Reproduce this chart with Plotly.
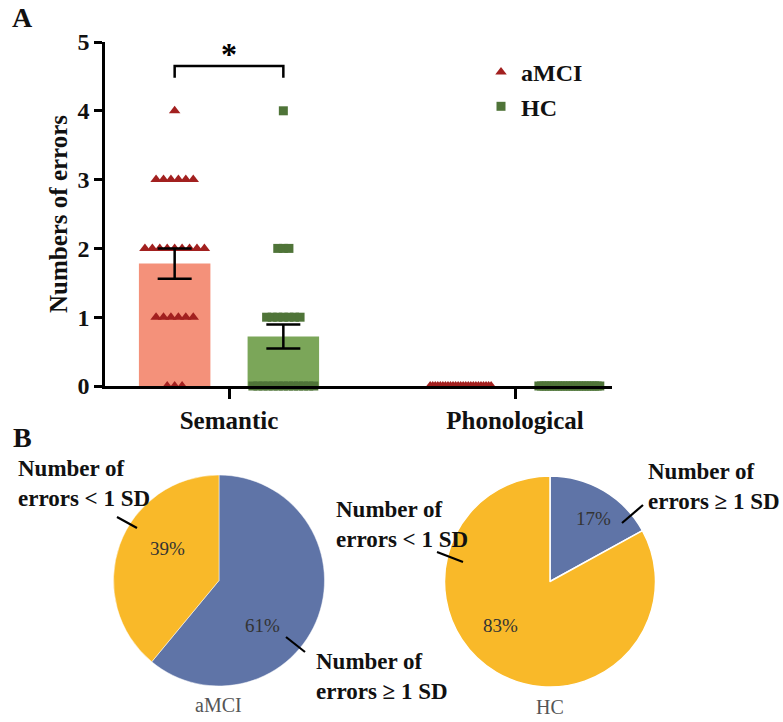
import plotly.graph_objects as go
from collections import Counter

W, H = 783, 722

# ---------------- data ----------------
categories = ["Semantic", "Phonological"]
groups = ["aMCI", "HC"]

# individual error counts
amci_semantic = [4, 3, 3, 3, 3, 3, 3, 2, 2, 2, 2, 2, 2, 2, 2, 2,
                 1, 1, 1, 1, 1, 1, 0, 0, 0]
amci_phonological = [0, 0, 0, 0, 0, 0, 0, 0, 0, 0, 0, 0, 0, 0, 0, 0,
                     0, 0, 0, 0, 0, 0, 0, 0, 0]
hc_semantic = [4, 2, 2, 2, 1, 1, 1, 1, 1, 1, 1,
               0, 0, 0, 0, 0, 0, 0, 0, 0, 0, 0, 0, 0]
hc_phonological = [0, 0, 0, 0, 0, 0, 0, 0, 0, 0, 0, 0,
                   0, 0, 0, 0, 0, 0, 0, 0, 0, 0, 0, 0]

# bar heights (mean) and error bars (SEM)
amci_mean = [1.78, 0.0]
amci_sem = [0.22, 0.0]
hc_mean = [0.72, 0.0]
hc_sem = [0.175, 0.0]

# pie chart percentages
pie_labels = ["Number of errors ≥ 1 SD", "Number of errors < 1 SD"]
amci_pie = [61, 39]
hc_pie = [17, 83]

# ---------------- styling ----------------
FONT = "Liberation Serif"
C_AMCI_BAR = "#F4917A"
C_AMCI_PT = "#A2201F"
C_HC_BAR = "#7BA659"
C_HC_PT = "#4F7438"
C_BLUE = "#5F74A7"
C_YELLOW = "#F9B929"

cat_pos = [1, 2]
offset = 0.19
bar_w = 0.25


def px(x):
    return x / W


def py(y):
    return 1 - y / H


def spread(values, center, step, max_span=0.213):
    xs, ys = [], []
    counts = Counter(values)
    seen = Counter()
    for v in values:
        n = counts[v]
        span = min((n - 1) * step, max_span)
        st = span / (n - 1) if n > 1 else 0
        i = seen[v]
        seen[v] += 1
        xs.append(center + (i - (n - 1) / 2) * st)
        ys.append(v)
    return xs, ys


fig = go.Figure()

amci_x = [c - offset for c in cat_pos]
hc_x = [c + offset for c in cat_pos]

fig.add_trace(go.Bar(x=amci_x, y=amci_mean, width=bar_w, marker_color=C_AMCI_BAR,
                     marker_line_width=0, showlegend=False, xaxis="x", yaxis="y"))
fig.add_trace(go.Bar(x=hc_x, y=hc_mean, width=bar_w, marker_color=C_HC_BAR,
                     marker_line_width=0, showlegend=False, xaxis="x", yaxis="y"))

ax, ay = [], []
for vals, c in [(amci_semantic, amci_x[0]), (amci_phonological, amci_x[1])]:
    xs, ys = spread(vals, c, 0.026)
    ax += xs
    ay += ys
hx, hy = [], []
for vals, c in [(hc_semantic, hc_x[0]), (hc_phonological, hc_x[1])]:
    xs, ys = spread(vals, c, 0.0195)
    hx += xs
    hy += ys

fig.add_trace(go.Scatter(x=ax, y=ay, mode="markers", name="aMCI", cliponaxis=False,
                         marker=dict(symbol="triangle-up", size=10, color=C_AMCI_PT,
                                     line_width=0)))
fig.add_trace(go.Scatter(x=hx, y=hy, mode="markers", name="HC", cliponaxis=False,
                         marker=dict(symbol="square", size=9, color=C_HC_PT, line_width=0)))

# error bars (drawn on top)
for xs, m, e in [(amci_x, amci_mean, amci_sem), (hc_x, hc_mean, hc_sem)]:
    fig.add_trace(go.Scatter(x=xs[:1], y=m[:1], mode="markers", showlegend=False,
                             marker=dict(size=1, opacity=0), cliponaxis=False,
                             error_y=dict(type="data", array=e[:1], color="black",
                                          thickness=2.5, width=17)))

# significance bracket
yb0, yb1 = 4.48, 4.65
fig.add_shape(type="path", xref="x", yref="y",
              path=f"M {amci_x[0]},{yb0} L {amci_x[0]},{yb1} L {hc_x[0]},{yb1} L {hc_x[0]},{yb0}",
              line=dict(color="black", width=2.5))
fig.add_annotation(x=cat_pos[0], y=4.82, xref="x", yref="y", text="*", showarrow=False,
                   xanchor="center", yanchor="middle",
                   font=dict(family=FONT, size=32, color="black", weight="bold"))

# pies
fig.add_trace(go.Pie(values=amci_pie, labels=pie_labels, sort=False, direction="clockwise",
                     rotation=0, textinfo="none", hoverinfo="none", showlegend=False,
                     marker=dict(colors=[C_BLUE, C_YELLOW], line=dict(color="white", width=0.5)),
                     domain=dict(x=[px(113), px(325)], y=[py(686), py(475)])))
fig.add_trace(go.Pie(values=hc_pie, labels=pie_labels, sort=False, direction="clockwise",
                     rotation=0, textinfo="none", hoverinfo="none", showlegend=False,
                     marker=dict(colors=[C_BLUE, C_YELLOW], line=dict(color="white", width=1.5)),
                     domain=dict(x=[px(444), px(656)], y=[py(687), py(476)])))


def label(x, y, text, font, xanchor="center"):
    fig.add_annotation(x=px(x), y=py(y), xref="paper", yref="paper", text=text,
                       showarrow=False, xanchor=xanchor, yanchor="middle", align="left",
                       font=font)


pct_font = dict(family=FONT, size=19, color="#333333")
for (x, y), v in zip([(262, 625), (167, 548)], amci_pie):
    label(x, y, f"{v}%", pct_font)
for (x, y), v in zip([(593, 518), (500, 625)], hc_pie):
    label(x, y, f"{v}%", pct_font)

lab_font = dict(family=FONT, size=23, color="#111111", weight="bold")


def callout(text, x, y, line):
    parts = text.split(" errors ")
    label(x, y, parts[0] + "<br>errors " + parts[1], lab_font, xanchor="left")
    (x0, y0), (x1, y1) = line
    fig.add_shape(type="line", xref="paper", yref="paper", x0=px(x0), y0=py(y0),
                  x1=px(x1), y1=py(y1), line=dict(color="black", width=2.2))


callout(pie_labels[1], 16, 483, ((117, 517), (137, 528)))
callout(pie_labels[0], 314, 676, ((286, 637), (305, 652)))
callout(pie_labels[1], 334, 524, ((437, 552), (463, 562)))
callout(pie_labels[0], 646, 486, ((643, 505), (622, 523)))

grey_font = dict(family=FONT, size=20, color="#555555")
label(219, 705, groups[0], grey_font)
label(550, 707, groups[1], grey_font)

panel_font = dict(family=FONT, size=28, color="#111111", weight="bold")
label(22, 18, "A", panel_font)
label(22, 437, "B", panel_font)

bold = dict(family=FONT, size=24, color="#111111", weight="bold")
fig.update_layout(
    width=W, height=H, margin=dict(l=0, r=0, t=0, b=0, autoexpand=False),
    paper_bgcolor="white", plot_bgcolor="white",
    barmode="overlay",
    xaxis=dict(domain=[px(105), px(612)], range=[1 - 124 / 286, 2 + 97 / 286],
               tickvals=cat_pos, ticktext=categories, tickfont=dict(bold, size=25),
               ticks="outside", ticklen=10, tickwidth=2.5, tickcolor="black",
               showline=True, linewidth=2.5, linecolor="black", showgrid=False,
               zeroline=False, anchor="y", automargin=False),
    yaxis=dict(domain=[py(386), py(42)], range=[0, 5], tickvals=[0, 1, 2, 3, 4, 5],
               tickfont=bold, ticks="outside", ticklen=8, tickwidth=2.5,
               tickcolor="black", showline=True, linewidth=2.5, linecolor="black",
               showgrid=False, zeroline=False, automargin=False,
               title=dict(text="Numbers of errors", font=dict(bold, size=25), standoff=3),
               anchor="x"),
    legend=dict(x=px(481), y=py(50), xanchor="left", yanchor="top", font=dict(bold, size=24),
                bgcolor="rgba(0,0,0,0)", tracegroupgap=0),
)

fig.write_html("out.html", config={"displayModeBar": False},
               post_script="document.body.style.margin='0';")
